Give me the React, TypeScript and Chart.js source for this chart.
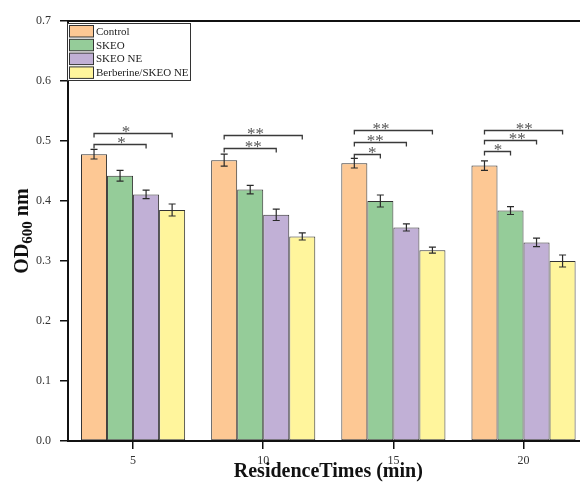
import React, { useEffect, useRef } from "react";
import { Chart, registerables } from "chart.js";

Chart.register(...registerables);

// ---- data ----
const categories = ["5", "10", "15", "20"];
const seriesNames = ["Control", "SKEO", "SKEO NE", "Berberine/SKEO NE"];
const seriesColors = ["#FDC894", "#95CC99", "#C1B0D6", "#FFF59C"];
const controlValues = [0.478, 0.468, 0.463, 0.459];
const skeoValues = [0.442, 0.419, 0.4, 0.384];
const skeoNeValues = [0.411, 0.377, 0.356, 0.331];
const berberineValues = [0.385, 0.341, 0.318, 0.3];
const controlErrors = [0.008, 0.01, 0.008, 0.008];
const skeoErrors = [0.009, 0.007, 0.01, 0.0065];
const skeoNeErrors = [0.007, 0.0095, 0.006, 0.007];
const berberineErrors = [0.01, 0.006, 0.005, 0.01];
const yTickValues = [0, 0.1, 0.2, 0.3, 0.4, 0.5, 0.6, 0.7];

// significance brackets
const bracketGroup = [0, 0, 1, 1, 2, 2, 2, 3, 3, 3];
const bracketFrom = [0, 0, 0, 0, 0, 0, 0, 0, 0, 0];
const bracketTo = [3, 2, 3, 2, 3, 2, 1, 3, 2, 1];
const bracketLevel = [0.514, 0.495, 0.51, 0.489, 0.518, 0.498, 0.478, 0.519, 0.502, 0.483];
const bracketLabel = ["*", "*", "**", "**", "**", "**", "*", "**", "**", "*"];
const bracketStarPos = [0.41, 0.53, 0.4, 0.56, 0.34, 0.4, 0.69, 0.51, 0.63, 0.52];

const allValues = [controlValues, skeoValues, skeoNeValues, berberineValues];
const allErrors = [controlErrors, skeoErrors, skeoNeErrors, berberineErrors];

const SERIF = "'Liberation Serif', 'Times New Roman', serif";
const CANVAS_W = 620;
const CANVAS_H = 483;

const decorPlugin = {
  id: "decor",
  afterDatasetsDraw(chart: any) {
    const ctx = chart.ctx;
    const y = chart.scales.y;
    ctx.save();
    // error bars
    ctx.strokeStyle = "#2a2a2a";
    ctx.lineWidth = 1.2;
    chart.data.datasets.forEach((ds: any, i: number) => {
      const meta = chart.getDatasetMeta(i);
      meta.data.forEach((el: any, j: number) => {
        const v = ds.data[j];
        const e = ds.errors[j];
        const yt = y.getPixelForValue(v + e);
        const yb = y.getPixelForValue(v - e);
        ctx.beginPath();
        ctx.moveTo(el.x, yt);
        ctx.lineTo(el.x, yb);
        ctx.moveTo(el.x - 3.5, yt);
        ctx.lineTo(el.x + 3.5, yt);
        ctx.moveTo(el.x - 3.5, yb);
        ctx.lineTo(el.x + 3.5, yb);
        ctx.stroke();
      });
    });
    // brackets
    ctx.strokeStyle = "#3a3a3a";
    ctx.lineWidth = 1.3;
    ctx.fillStyle = "#555";
    ctx.font = `17px ${SERIF}`;
    ctx.textAlign = "center";
    ctx.textBaseline = "alphabetic";
    bracketGroup.forEach((g, k) => {
      const x1 = chart.getDatasetMeta(bracketFrom[k]).data[g].x;
      const x2 = chart.getDatasetMeta(bracketTo[k]).data[g].x;
      const yy = Math.round(y.getPixelForValue(bracketLevel[k])) + 0.5;
      ctx.beginPath();
      ctx.moveTo(x1, yy + 4);
      ctx.lineTo(x1, yy);
      ctx.lineTo(x2, yy);
      ctx.lineTo(x2, yy + 4);
      ctx.stroke();
      ctx.fillText(bracketLabel[k], x1 + (x2 - x1) * bracketStarPos[k], yy + 3.5);
    });
    ctx.restore();
  },
  afterDraw(chart: any) {
    const ctx = chart.ctx;
    const ca = chart.chartArea;
    ctx.save();
    // top frame line
    ctx.strokeStyle = "#111";
    ctx.lineWidth = 2;
    ctx.beginPath();
    ctx.moveTo(ca.left - 1, ca.top);
    ctx.lineTo(ca.right, ca.top);
    ctx.stroke();

    // legend
    const lx = ca.left - 1;
    const ly = ca.top + 2;
    const lw = 123;
    const lh = 57;
    ctx.fillStyle = "#fff";
    ctx.fillRect(lx, ly, lw, lh);
    ctx.strokeStyle = "#333";
    ctx.lineWidth = 1;
    ctx.strokeRect(lx + 0.5, ly + 0.5, lw, lh);
    ctx.font = `11px ${SERIF}`;
    ctx.textAlign = "left";
    ctx.textBaseline = "middle";
    chart.data.datasets.forEach((ds: any, i: number) => {
      const sy = ly + 2.5 + i * 13.8;
      ctx.fillStyle = ds.backgroundColor;
      ctx.fillRect(lx + 2.5, sy, 24, 11.5);
      ctx.strokeStyle = "#333";
      ctx.strokeRect(lx + 2.5, sy, 24, 11.5);
      ctx.fillStyle = "#222";
      ctx.fillText(ds.label, lx + 29, sy + 6.5);
    });

    // x title
    ctx.fillStyle = "#111";
    ctx.font = `bold 20px ${SERIF}`;
    ctx.textAlign = "center";
    ctx.textBaseline = "alphabetic";
    ctx.fillText("ResidenceTimes (min)", (ca.left + ca.right) / 2, 477);

    // y title with subscript
    const cy = (ca.top + ca.bottom) / 2;
    ctx.translate(28, cy);
    ctx.rotate(-Math.PI / 2);
    const big = `bold 20px ${SERIF}`;
    const small = `bold 15px ${SERIF}`;
    ctx.font = big;
    const w1 = ctx.measureText("OD").width;
    const w3 = ctx.measureText(" nm").width;
    ctx.font = small;
    const w2 = ctx.measureText("600").width;
    let x0 = -(w1 + w2 + w3) / 2;
    ctx.textAlign = "left";
    ctx.font = big;
    ctx.fillText("OD", x0, 0);
    ctx.font = small;
    ctx.fillText("600", x0 + w1, 4);
    ctx.font = big;
    ctx.fillText(" nm", x0 + w1 + w2, 0);
    ctx.restore();
  },
};

export default function App() {
  const ref = useRef<HTMLCanvasElement | null>(null);
  useEffect(() => {
    document.documentElement.style.overflow = "hidden";
    document.body.style.margin = "0";
    document.body.style.overflow = "hidden";
    const canvas = ref.current!;
    const chart = new Chart(canvas, {
      type: "bar",
      data: {
        labels: categories,
        datasets: seriesNames.map((name, i) => ({
          label: name,
          data: allValues[i],
          errors: allErrors[i],
          backgroundColor: seriesColors[i],
          borderColor: "#333",
          borderWidth: 1,
          borderSkipped: false,
          categoryPercentage: 0.8,
          barPercentage: 1.0,
        })) as any,
      },
      options: {
        animation: false,
        responsive: false,
        devicePixelRatio: 1,
        layout: { padding: { left: 0, top: 21, right: CANVAS_W - 588.6, bottom: 0 } },
        plugins: { legend: { display: false }, tooltip: { enabled: false } },
        scales: {
          x: {
            type: "category",
            offset: true,
            grid: {
              display: true,
              drawOnChartArea: false,
              drawTicks: true,
              tickLength: 8,
              color: "#111",
              lineWidth: 1.5,
              offset: false,
            },
            border: { display: true, color: "#111", width: 2 },
            ticks: {
              font: { family: SERIF, size: 12 },
              color: "#333",
              padding: 5,
              maxRotation: 0,
            },
            afterFit: (s: any) => {
              s.height = 42;
            },
          },
          y: {
            min: 0,
            max: 0.7,
            afterBuildTicks: (s: any) => {
              s.ticks = yTickValues.map((v) => ({ value: v }));
            },
            grid: {
              display: true,
              drawOnChartArea: false,
              drawTicks: true,
              tickLength: 8,
              color: "#111",
              lineWidth: 1.5,
            },
            border: { display: true, color: "#111", width: 2 },
            ticks: {
              font: { family: SERIF, size: 12 },
              color: "#333",
              padding: 9,
              callback: (v: any) => Number(v).toFixed(1),
            },
            afterFit: (s: any) => {
              s.width = 68;
            },
          },
        },
      } as any,
      plugins: [decorPlugin],
    });
    return () => chart.destroy();
  }, []);
  return (
    <div style={{ width: CANVAS_W, height: CANVAS_H, background: "#fff" }}>
      <canvas ref={ref} width={CANVAS_W} height={CANVAS_H} style={{ display: "block" }} />
    </div>
  );
}
